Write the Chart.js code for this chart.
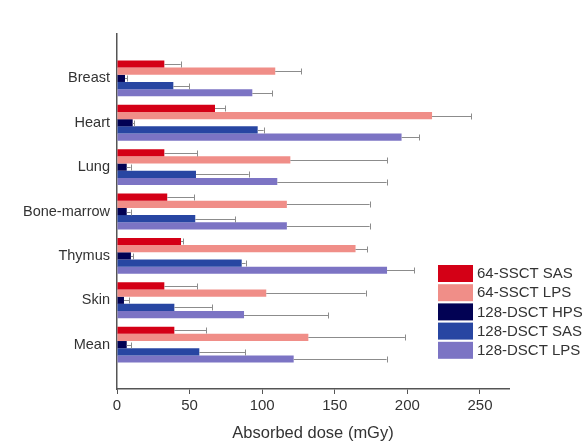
<!DOCTYPE html>
<html lang="en">
<head>
    <meta charset="UTF-8">
    <title>Absorbed dose</title>
    <style>
        body {
            margin: 0;
            background: white;
        }
        .chartBox {
            width: 588px;
            height: 447px;
        }
    </style>
</head>
<body>
    <div class="chartBox">
        <canvas id="doseChart"></canvas>
    </div>

    <script src="https://cdn.jsdelivr.net/npm/chart.js"></script>
    <script>
        // organ labels, top to bottom
        const organs = ['Breast', 'Heart', 'Lung', 'Bone-marrow', 'Thymus', 'Skin', 'Mean'];
        const xTicks = [0, 50, 100, 150, 200, 250];

        const seriesNames = ['64-SSCT SAS', '64-SSCT LPS', '128-DSCT HPS', '128-DSCT SAS', '128-DSCT LPS'];
        const seriesColors = ['rgb(212, 0, 22)', 'rgb(240, 142, 136)', 'rgb(2, 2, 84)', 'rgb(40, 70, 162)', 'rgb(124, 116, 196)'];

        // mean dose (mGy) and one-sided error
        const sas64 = [32.6, 67.5, 32.6, 34.6, 44.1, 32.6, 39.5];
        const sas64Err = [11.3, 7.1, 22.7, 18.6, 1.6, 22.7, 21.8];
        const lps64 = [109, 217, 119.4, 117, 164.3, 102.8, 131.8];
        const lps64Err = [18, 27, 66.6, 57, 8.1, 68.5, 66.5];
        const hps128 = [5.5, 10.8, 6.7, 6.7, 9.6, 4.8, 6.7];
        const hps128Err = [1.5, 1, 2.7, 2.7, 1.6, 3.5, 2.9];
        const sas128 = [38.8, 96.9, 54.4, 53.9, 85.9, 39.5, 56.7];
        const sas128Err = [10.8, 4.1, 36.3, 27.4, 2.7, 25.9, 31.5];
        const lps128 = [93.2, 196, 110.4, 117, 186, 87.5, 121.7];
        const lps128Err = [13.8, 12, 75.3, 57, 18.8, 58, 64];

        const allValues = [sas64, lps64, hps128, sas128, lps128];
        const allErrors = [sas64Err, lps64Err, hps128Err, sas128Err, lps128Err];

        // empty slot above and below so the groups sit away from the axis ends
        const pad = arr => [null, ...arr, null];
        const labels = pad(organs).map(l => l === null ? '' : l);

        const textColor = '#333';
        const axisColor = '#555';
        const fontFamily = '"Liberation Sans", Arial, sans-serif';

        const errorBars = {
            id: 'errorBars',
            afterDatasetsDraw(chart) {
                const ctx = chart.ctx;
                const xScale = chart.scales.x;
                ctx.save();
                ctx.strokeStyle = '#8c8c8c';
                ctx.lineWidth = 1;
                chart.data.datasets.forEach((ds, i) => {
                    const meta = chart.getDatasetMeta(i);
                    meta.data.forEach((bar, j) => {
                        const v = ds.data[j];
                        if (v === null) return;
                        const x0 = bar.x;
                        const x1 = xScale.getPixelForValue(v + ds.errors[j]);
                        const y = Math.round(bar.y) + 0.5;
                        ctx.beginPath();
                        ctx.moveTo(x0, y);
                        ctx.lineTo(x1, y);
                        ctx.moveTo(Math.round(x1) + 0.5, y - 3);
                        ctx.lineTo(Math.round(x1) + 0.5, y + 3);
                        ctx.stroke();
                    });
                });
                ctx.restore();
            }
        };

        const boxLegend = {
            id: 'boxLegend',
            afterDraw(chart) {
                const ctx = chart.ctx;
                ctx.save();
                ctx.font = '15px ' + fontFamily;
                ctx.textBaseline = 'middle';
                seriesNames.forEach((name, i) => {
                    const top = 265 + i * 19.2;
                    ctx.fillStyle = seriesColors[i];
                    ctx.fillRect(438, top, 35, 17);
                    ctx.fillStyle = textColor;
                    ctx.fillText(name, 477, top + 9);
                });
                ctx.restore();
            }
        };

        const ctx = document.getElementById('doseChart').getContext('2d');
        new Chart(ctx, {
            type: 'bar',
            data: {
                labels: labels,
                datasets: seriesNames.map((name, i) => ({
                    label: name,
                    data: pad(allValues[i]),
                    errors: pad(allErrors[i]),
                    backgroundColor: seriesColors[i],
                    borderWidth: 0,
                    categoryPercentage: 0.81,
                    barPercentage: 1
                }))
            },
            options: {
                indexAxis: 'y',
                responsive: true,
                maintainAspectRatio: false,
                animation: false,
                layout: {
                    padding: { left: 0, right: 79, top: 34, bottom: 0 }
                },
                plugins: {
                    legend: { display: false },
                    tooltip: { enabled: false }
                },
                scales: {
                    y: {
                        type: 'category',
                        offset: false,
                        afterFit: scale => { scale.width = 117; },
                        grid: { display: true, drawOnChartArea: false, drawTicks: false },
                        border: { display: true, color: axisColor, width: 1.5 },
                        ticks: {
                            color: textColor,
                            padding: 7,
                            autoSkip: false,
                            font: { family: fontFamily, size: 14.5 }
                        }
                    },
                    x: {
                        type: 'linear',
                        min: 0,
                        max: 270,
                        afterFit: scale => { scale.height = 58; },
                        afterBuildTicks: scale => {
                            scale.ticks = xTicks.map(v => ({ value: v }));
                        },
                        grid: { display: true, drawOnChartArea: false, drawTicks: true, tickLength: 5, color: axisColor },
                        border: { display: true, color: axisColor, width: 1.5 },
                        ticks: {
                            color: textColor,
                            padding: 3,
                            maxRotation: 0,
                            font: { family: fontFamily, size: 15 }
                        },
                        title: {
                            display: true,
                            text: 'Absorbed dose (mGy)',
                            color: textColor,
                            padding: { top: 4, bottom: 4 },
                            font: { family: fontFamily, size: 16.5 }
                        }
                    }
                }
            },
            plugins: [errorBars, boxLegend]
        });
    </script>
</body>
</html>
